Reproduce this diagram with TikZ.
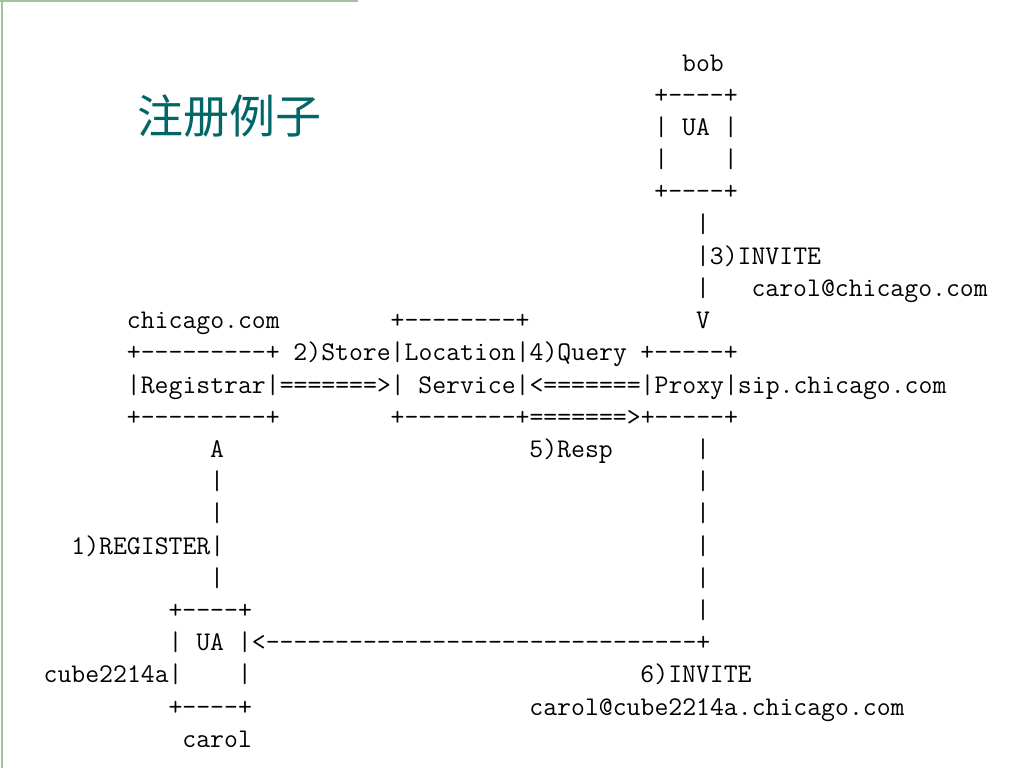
\documentclass[tikz,border=0pt]{standalone}
\usepackage{fontspec}
\newfontfamily\cjkfont{Noto Sans CJK SC}
\usepackage{tikz}
\definecolor{titleteal}{RGB}{0,102,102}
\definecolor{framegreen}{RGB}{160,196,160}

\begin{document}
\begin{tikzpicture}[
    x=13.88pt, y=-32.2pt,
    ascii/.style={anchor=base west, inner sep=0pt, outer sep=0pt, font=\ttfamily\fontsize{26.98}{32}\selectfont},
    title/.style={inner sep=0pt, text=titleteal, font=\cjkfont\fontsize{46}{50}\selectfont},
    frame/.style={draw=framegreen, line width=2pt}
]
\useasboundingbox (0pt,0pt) rectangle (1024pt,-768pt);

% Frame and title
\coordinate (ftop) at (1.5pt,0pt);
\coordinate (fbottom) at (1.5pt,-768pt);
\coordinate (fleft) at (0pt,-1pt);
\coordinate (fright) at (358pt,-1pt);
\draw [frame] (ftop) -- (fbottom);
\draw [frame] (fleft) -- (fright);
\node (title) [title] at (229pt,-116pt) {注册例子};

% Character grid: (column, line)
\begin{scope}[shift={(2pt,-71pt)}]
% bob
\node (bob) [ascii] at (49,0) {bob};
\node (bobtop) [ascii] at (47,1) {+----+};
\node (bobl1) [ascii] at (47,2) {|};
\node (bobua) [ascii] at (49,2) {UA};
\node (bobr1) [ascii] at (52,2) {|};
\node (bobl2) [ascii] at (47,3) {|};
\node (bobr2) [ascii] at (52,3) {|};
\node (bobbot) [ascii] at (47,4) {+----+};
\node (inv1) [ascii] at (50,5) {|};
\node (inv2) [ascii] at (50,6) {|3)INVITE};
\node (inv3) [ascii] at (50,7) {|};
\node (invto) [ascii] at (54,7) {carol@chicago.com};
% Registrar, Location Service, Proxy
\node (domain) [ascii] at (9,8) {chicago.com};
\node (loctop) [ascii] at (28,8) {+--------+};
\node (invhead) [ascii] at (50,8) {V};
\node (regtop) [ascii] at (9,9) {+---------+};
\node (store) [ascii] at (21,9) {2)Store|Location|4)Query};
\node (proxytop) [ascii] at (46,9) {+-----+};
\node (regmid) [ascii] at (9,10) {|Registrar|=======>|};
\node (locmid) [ascii] at (30,10) {Service|<=======|Proxy|sip.chicago.com};
\node (regbot) [ascii] at (9,11) {+---------+};
\node (locbot) [ascii] at (28,11) {+--------+=======>+-----+};
% REGISTER and INVITE paths
\node (reghead) [ascii] at (15,12) {A};
\node (resp) [ascii] at (38,12) {5)Resp};
\node (prx1) [ascii] at (50,12) {|};
\node (reg1) [ascii] at (15,13) {|};
\node (prx2) [ascii] at (50,13) {|};
\node (reg2) [ascii] at (15,14) {|};
\node (prx3) [ascii] at (50,14) {|};
\node (register) [ascii] at (5,15) {1)REGISTER|};
\node (prx4) [ascii] at (50,15) {|};
\node (reg3) [ascii] at (15,16) {|};
\node (prx5) [ascii] at (50,16) {|};
% carol
\node (caroltop) [ascii] at (12,17) {+----+};
\node (prx6) [ascii] at (50,17) {|};
\node (carl1) [ascii] at (12,18) {|};
\node (carolua) [ascii] at (14,18) {UA};
\node (invback) [ascii] at (17,18) {|<-------------------------------+};
\node (host) [ascii] at (3,19) {cube2214a|};
\node (carr2) [ascii] at (17,19) {|};
\node (invite) [ascii] at (46,19) {6)INVITE};
\node (carolbot) [ascii] at (12,20) {+----+};
\node (inviteto) [ascii] at (38,20) {carol@cube2214a.chicago.com};
\node (carol) [ascii] at (13,21) {carol};
\end{scope}

\end{tikzpicture}
\end{document}
